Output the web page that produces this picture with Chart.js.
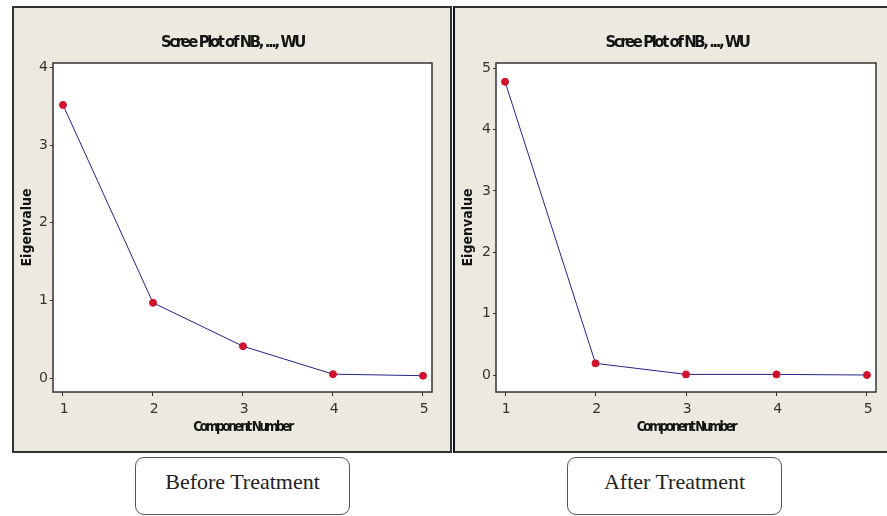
<!DOCTYPE html>
<html>
<head>
<meta charset="utf-8">
<script src="https://cdn.jsdelivr.net/npm/chart.js@4.4.0/dist/chart.umd.min.js"></script>
<style>
    body { margin: 0; width: 887px; height: 516px; background: #fff; overflow: hidden; position: relative; }
    .panel { position: absolute; background: #ECE9E0; overflow: hidden; }
    #p1 { left: 12px; top: 6px; width: 436px; height: 443px; border: 2px solid #333; }
    #p2 { left: 453px; top: 6px; width: 434px; height: 443px; border-top: 2px solid #333; border-bottom: 2px solid #333; border-left: 2px solid #111; }
    .panel canvas { position: absolute; left: 0; top: 0; }
    .tag {
        position: absolute; top: 457px; width: 215px; height: 58px; box-sizing: border-box;
        border: 1px solid #555; border-radius: 9px; background: #fff;
        font-family: 'Liberation Serif', 'Times New Roman', serif; font-size: 22px; color: #222;
        text-align: center; line-height: 30px; padding-top: 9px;
    }
</style>
</head>
<body>
<div class="panel" id="p1"><canvas id="before" width="436" height="443"></canvas></div>
<div class="panel" id="p2"><canvas id="after" width="432" height="443"></canvas></div>
<div class="tag" style="left: 135px;">Before Treatment</div>
<div class="tag" style="left: 567px;">After Treatment</div>
<script>
const components = [1, 2, 3, 4, 5];
const eigenBefore = [3.52, 0.97, 0.41, 0.05, 0.03];
const eigenAfter = [4.78, 0.19, 0.01, 0.01, 0.0];
const xTicks = [1, 2, 3, 4, 5];
const yTicksBefore = [0, 1, 2, 3, 4];
const yTicksAfter = [0, 1, 2, 3, 4, 5];
const titleText = 'Scree Plot of NB, ..., WU';
const xTitle = 'Component Number';
const yTitle = 'Eigenvalue';

// white plot box + frame, squeezed lettering for the title and x title (like minitab)
const plotFrame = {
    id: 'plotFrame',
    beforeDraw(chart) {
        const { ctx, chartArea: a } = chart;
        ctx.save();
        ctx.fillStyle = '#fff';
        ctx.fillRect(a.left, a.top, a.right - a.left, a.bottom - a.top);
        ctx.restore();
        ctx.letterSpacing = '-2.4px';
    },
    afterDatasetsDraw(chart) {
        // y axis layers have z = 1 so they come after this -> normal spacing
        chart.ctx.letterSpacing = '0px';
    },
    afterDraw(chart) {
        const { ctx, chartArea: a } = chart;
        ctx.save();
        ctx.strokeStyle = '#333';
        ctx.lineWidth = 1.5;
        ctx.strokeRect(a.left, a.top, a.right - a.left, a.bottom - a.top);
        ctx.restore();
    }
};

function makeChart(id, values, yTicks, cfg) {
    return new Chart(document.getElementById(id), {
        type: 'line',
        data: {
            datasets: [{
                data: components.map((c, i) => ({ x: c, y: values[i] })),
                borderColor: '#23238A',
                borderWidth: 1,
                pointRadius: 3.5,
                pointBackgroundColor: '#D1122C',
                pointBorderColor: '#D1122C',
                pointBorderWidth: 1,
                tension: 0,
            }],
        },
        options: {
            responsive: false,
            animation: false,
            devicePixelRatio: 1,
            layout: { padding: { left: cfg.padLeft, right: cfg.padRight, top: 0, bottom: 0 } },
            plugins: {
                legend: { display: false },
                tooltip: { enabled: false },
                title: {
                    display: true,
                    text: titleText,
                    color: '#141414',
                    font: { family: "'DejaVu Sans Condensed', 'DejaVu Sans'", weight: 'bold', size: 16.5 },
                    padding: { top: 24.5, bottom: 10.7 },
                },
            },
            scales: {
                x: {
                    type: 'linear',
                    min: cfg.xMin,
                    max: cfg.xMax,
                    afterBuildTicks: (s) => { s.ticks = xTicks.map((v) => ({ value: v })); },
                    afterFit: (s) => { s.height = 59; },
                    ticks: { color: '#333', font: { family: "'DejaVu Sans'", size: 14 }, padding: 5, maxRotation: 0 },
                    grid: { drawOnChartArea: false, drawTicks: true, tickLength: 4, color: '#333' },
                    border: { display: false },
                    title: {
                        display: true,
                        text: xTitle,
                        color: '#141414',
                        font: { family: "'DejaVu Sans Condensed', 'DejaVu Sans'", weight: 'bold', size: 13.5 },
                        padding: { top: 0, bottom: 15 },
                    },
                },
                y: {
                    min: cfg.yMin,
                    max: cfg.yMax,
                    afterBuildTicks: (s) => { s.ticks = yTicks.map((v) => ({ value: v })); },
                    afterFit: (s) => { s.width = cfg.yWidth; },
                    ticks: { color: '#333', font: { family: "'DejaVu Sans'", size: 14 }, padding: 2, z: 1 },
                    grid: { drawOnChartArea: false, drawTicks: true, tickLength: 3, color: '#333', z: 1 },
                    border: { display: false, z: 1 },
                    title: {
                        display: true,
                        text: yTitle,
                        color: '#141414',
                        font: { family: "'DejaVu Sans Condensed', 'DejaVu Sans'", weight: 'bold', size: 14 },
                        padding: { top: cfg.yTitlePad, bottom: 0 },
                    },
                },
            },
        },
        plugins: [plotFrame],
    });
}

makeChart('before', eigenBefore, yTicksBefore, {
    padLeft: 19, padRight: 18, yWidth: 20, yTitlePad: -14.4,
    xMin: 0.889, xMax: 5.1, yMin: -0.18, yMax: 4.06,
});
makeChart('after', eigenAfter, yTicksAfter, {
    padLeft: 23, padRight: 11, yWidth: 18, yTitlePad: -18.4,
    xMin: 0.9, xMax: 5.1, yMin: -0.277, yMax: 5.086,
});
</script>
</body>
</html>
